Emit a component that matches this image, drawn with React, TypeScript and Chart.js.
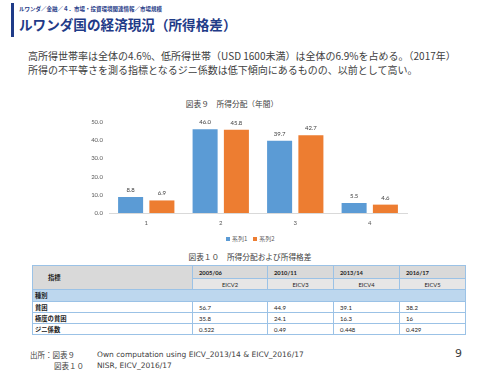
import React, { useEffect, useRef } from "react";
import { Chart, registerables } from "chart.js";
Chart.register(...registerables);

// ---- chart data (図表９) ----
const categories = ["1", "2", "3", "4"];
const series1 = [8.8, 46.0, 39.7, 5.5];
const series2 = [6.9, 45.8, 42.7, 4.6];
const seriesNames = ["系列1", "系列2"];
const yMin = 0;
const yMax = 50;
const yStep = 10;

// ---- table data (図表１０) ----
const tableYears = ["2005/06", "2010/11", "2013/14", "2016/17"];
const tableSurveys = ["EICV2", "EICV3", "EICV4", "EICV5"];
const tableRowLabels = ["貧困", "極度の貧困", "ジニ係数"];
const povertyValues = ["56.7", "44.9", "39.1", "38.2"];
const extremePovertyValues = ["35.8", "24.1", "16.3", "16"];
const giniValues = ["0.522", "0.49", "0.448", "0.429"];

const BLUE = "#5b9bd5";
const ORANGE = "#ed7d31";
const NAVY = "#1f3b88";
const JP = "'Noto Sans CJK JP', 'Noto Sans', sans-serif";
const NUM = "Lato, 'Open Sans', sans-serif";

const valueLabels = {
  id: "valueLabels",
  afterDatasetsDraw(chart: any) {
    const ctx = chart.ctx;
    ctx.save();
    ctx.font = "6px " + NUM;
    ctx.fillStyle = "#404040";
    ctx.textAlign = "center";
    ctx.textBaseline = "bottom";
    chart.data.datasets.forEach((ds: any, i: number) => {
      const meta = chart.getDatasetMeta(i);
      meta.data.forEach((bar: any, j: number) => {
        ctx.fillText(Number(ds.data[j]).toFixed(1), bar.x, bar.y - 4);
      });
    });
    ctx.restore();
  },
};

function BarChart() {
  const ref = useRef<HTMLCanvasElement | null>(null);
  useEffect(() => {
    if (!ref.current) return;
    const chart = new Chart(ref.current, {
      type: "bar",
      data: {
        labels: categories,
        datasets: [
          { label: seriesNames[0], data: series1, backgroundColor: BLUE, categoryPercentage: 0.84, barPercentage: 0.8 },
          { label: seriesNames[1], data: series2, backgroundColor: ORANGE, categoryPercentage: 0.84, barPercentage: 0.8 },
        ],
      },
      options: {
        animation: false,
        responsive: true,
        maintainAspectRatio: false,
        layout: { padding: { left: 0, right: 13, top: 10, bottom: 0 } },
        plugins: { legend: { display: false }, title: { display: false }, tooltip: { enabled: false } },
        scales: {
          x: {
            grid: { display: false, drawTicks: false },
            border: { display: true, color: "#d9d9d9", width: 1 },
            ticks: { color: "#595959", font: { size: 6, family: NUM }, padding: 6 },
            afterFit: (s: any) => { s.height = 17; },
          },
          y: {
            min: yMin,
            max: yMax,
            grid: { display: false, drawTicks: false },
            border: { display: false },
            ticks: {
              stepSize: yStep,
              color: "#595959",
              font: { size: 6, family: NUM },
              padding: 6,
              callback: (v: any) => Number(v).toFixed(1),
            },
            afterFit: (s: any) => { s.width = 29; },
          },
        },
      },
      plugins: [valueLabels],
    });
    return () => chart.destroy();
  }, []);
  return (
    <div style={{ position: "absolute", left: 80, top: 112, width: 340, height: 118 }}>
      <canvas ref={ref} />
    </div>
  );
}

const cellBorder = "1px solid #9bc2e6";

export default function App() {
  const rowValues = [povertyValues, extremePovertyValues, giniValues];
  const colWidths = [160, 75, 66, 66, 66];
  return (
    <div style={{ position: "fixed", left: 0, top: 0, width: 500, height: 375, background: "#fff", overflow: "hidden", fontFamily: JP }}>
      {/* header */}
      <div style={{ position: "absolute", left: 11, top: 3, width: 3, height: 34, background: NAVY }} />
      <div style={{ position: "absolute", left: 19, top: 5, fontSize: 5.5, fontWeight: 700, color: NAVY, whiteSpace: "nowrap", lineHeight: "8px" }}>
        ルワンダ／金融／４．市場・投資環境関連情報／市場規模
      </div>
      <div style={{ position: "absolute", left: 19, top: 15, fontSize: 13.6, fontWeight: 700, color: NAVY, whiteSpace: "nowrap", lineHeight: "18px" }}>
        ルワンダ国の経済現況（所得格差）
      </div>

      {/* body text */}
      <div style={{ position: "absolute", left: 28, top: 49, fontSize: 10, color: "#404040", whiteSpace: "nowrap", lineHeight: "13.7px" }}>
        <div>高所得世帯率は全体の4.6%、低所得世帯（USD 1600未満）は全体の6.9%を占める。（2017年）</div>
        <div>所得の不平等さを測る指標となるジニ係数は低下傾向にあるものの、以前として高い。</div>
      </div>

      {/* chart title */}
      <div style={{ position: "absolute", left: 80, width: 304, top: 99, textAlign: "center", fontSize: 7.7, color: "#404040", lineHeight: "10px", whiteSpace: "nowrap" }}>
        図表９　所得分配（年間）
      </div>

      <BarChart />

      {/* legend */}
      <div style={{ position: "absolute", left: 226, top: 235, display: "flex", alignItems: "center", fontSize: 6, color: "#595959", lineHeight: "8px", whiteSpace: "nowrap" }}>
        <span style={{ display: "inline-block", width: 4, height: 4, background: BLUE, marginRight: 2 }} />
        <span style={{ marginRight: 6 }}>{seriesNames[0]}</span>
        <span style={{ display: "inline-block", width: 4, height: 4, background: ORANGE, marginRight: 2 }} />
        <span>{seriesNames[1]}</span>
      </div>

      {/* table title */}
      <div style={{ position: "absolute", left: 0, width: 500, top: 252, textAlign: "center", fontSize: 7.7, color: "#404040", lineHeight: "10px", whiteSpace: "nowrap" }}>
        図表１０　所得分配および所得格差
      </div>

      {/* table */}
      <table style={{ position: "absolute", left: 32, top: 265, borderCollapse: "collapse", tableLayout: "fixed", width: 434, fontSize: 6.3, color: "#222", border: "1px solid #8db4e2" }}>
        <colgroup>
          {colWidths.map((w, i) => <col key={i} style={{ width: w }} />)}
        </colgroup>
        <tbody>
          <tr style={{ height: 13 }}>
            <td rowSpan={2} style={{ border: cellBorder, background: "#d9d9d9", fontWeight: 700, padding: "0 0 0 15px" }}>指標</td>
            {tableYears.map((y) => (
              <td key={y} style={{ border: cellBorder, background: "#d9d9d9", fontWeight: 700, fontFamily: NUM, fontSize: 5.8, padding: "0 0 0 6px" }}>{y}</td>
            ))}
          </tr>
          <tr style={{ height: 11 }}>
            {tableSurveys.map((s) => (
              <td key={s} style={{ border: cellBorder, background: "#e7e6e6", textAlign: "center", fontFamily: NUM, padding: 0, fontSize: 5.8 }}>{s}</td>
            ))}
          </tr>
          <tr style={{ height: 12 }}>
            <td colSpan={5} style={{ border: cellBorder, background: "#bdd7ee", fontWeight: 700, padding: "0 0 0 2px" }}>種別</td>
          </tr>
          {tableRowLabels.map((label, r) => (
            <tr key={label} style={{ height: 11 }}>
              <td style={{ border: cellBorder, fontWeight: 700, padding: "0 0 0 2px" }}>{label}</td>
              {rowValues[r].map((v, c) => (
                <td key={c} style={{ border: cellBorder, fontFamily: NUM, fontSize: 6, padding: "0 0 0 6px" }}>{v}</td>
              ))}
            </tr>
          ))}
        </tbody>
      </table>

      {/* footer */}
      <div style={{ position: "absolute", left: 30, top: 349, fontSize: 7.5, color: "#404040", lineHeight: "11px", whiteSpace: "nowrap" }}>
        <div style={{ display: "flex" }}>
          <span style={{ width: 67 }}>出所：図表９</span>
          <span style={{ fontFamily: "'DejaVu Sans', sans-serif" }}>Own computation using EICV_2013/14 &amp; EICV_2016/17</span>
        </div>
        <div style={{ display: "flex" }}>
          <span style={{ width: 67, paddingLeft: 24, boxSizing: "border-box" }}>図表１０</span>
          <span style={{ fontFamily: "'DejaVu Sans', sans-serif" }}>NISR, EICV_2016/17</span>
        </div>
      </div>
      <div style={{ position: "absolute", left: 455, top: 347, fontSize: 11, color: "#404040", fontFamily: "'DejaVu Sans', sans-serif" }}>9</div>
    </div>
  );
}
